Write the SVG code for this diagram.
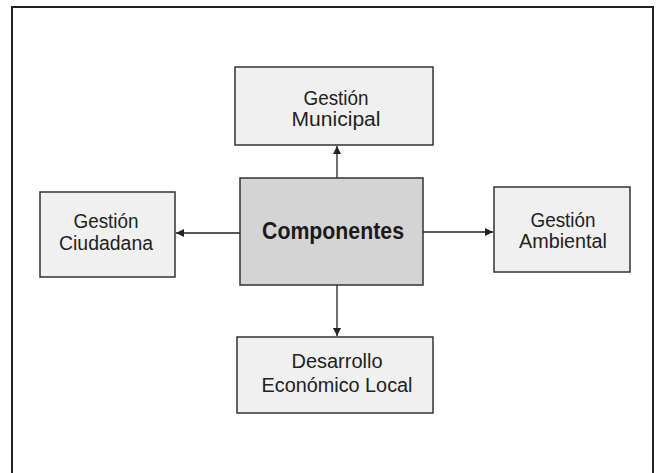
<svg xmlns="http://www.w3.org/2000/svg" width="656" height="473" viewBox="0 0 656 473">
<defs>
<style>
.box{fill:#f0f0f0;stroke:#333;stroke-width:1.5}
.main{fill:#d4d4d4;stroke:#333;stroke-width:1.5}
.t{font-family:"Liberation Sans",Arial,sans-serif;font-size:20px;fill:#222;text-anchor:middle}
.tb{font-family:"Liberation Sans",Arial,sans-serif;font-size:23px;font-weight:bold;fill:#1a1a1a;text-anchor:middle}
.c{stroke:#222;stroke-width:1.3;fill:none;marker-end:url(#ah)}
</style>
<marker id="ah" viewBox="0 0 10 10" refX="10" refY="5" markerWidth="8" markerHeight="8" markerUnits="userSpaceOnUse" orient="auto">
<path d="M0,0 L10,5 L0,10 Z" fill="#222"/>
</marker>
</defs>
<rect width="656" height="473" fill="#fff"/>
<path d="M12,480 L12,7 L653,7 L653,480" fill="none" stroke="#222" stroke-width="2"/>
<g id="connectors">
<line class="c" x1="337" y1="178" x2="337" y2="146"/>
<line class="c" x1="337" y1="285" x2="337" y2="336"/>
<line class="c" x1="240" y1="233" x2="176" y2="233"/>
<line class="c" x1="423" y1="232" x2="493" y2="232"/>
</g>
<g id="componentes">
<rect class="main" x="240" y="178" width="183" height="107"/>
<text class="tb" x="333" y="239" textLength="142" lengthAdjust="spacingAndGlyphs">Componentes</text>
</g>
<g id="gestion-municipal">
<rect class="box" x="235" y="67" width="198" height="78"/>
<text class="t" x="336" y="105" textLength="65" lengthAdjust="spacingAndGlyphs">Gestión</text>
<text class="t" x="336" y="126" textLength="89" lengthAdjust="spacingAndGlyphs">Municipal</text>
</g>
<g id="gestion-ciudadana">
<rect class="box" x="40" y="192" width="135" height="85"/>
<text class="t" x="106" y="228" textLength="65" lengthAdjust="spacingAndGlyphs">Gestión</text>
<text class="t" x="106" y="250" textLength="94" lengthAdjust="spacingAndGlyphs">Ciudadana</text>
</g>
<g id="gestion-ambiental">
<rect class="box" x="494" y="187" width="136" height="85"/>
<text class="t" x="563" y="227" textLength="65" lengthAdjust="spacingAndGlyphs">Gestión</text>
<text class="t" x="563" y="248" textLength="88" lengthAdjust="spacingAndGlyphs">Ambiental</text>
</g>
<g id="desarrollo-economico-local">
<rect class="box" x="237" y="337" width="196" height="76"/>
<text class="t" x="337" y="368" textLength="91" lengthAdjust="spacingAndGlyphs">Desarrollo</text>
<text class="t" x="337" y="392" textLength="151" lengthAdjust="spacingAndGlyphs">Económico Local</text>
</g>
</svg>
